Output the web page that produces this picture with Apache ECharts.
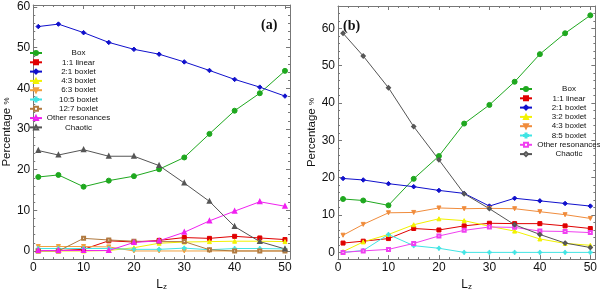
<!DOCTYPE html>
<html><head><meta charset="utf-8">
<script src="https://cdn.jsdelivr.net/npm/echarts@6/dist/echarts.min.js"></script>
<style>html,body{margin:0;padding:0;background:#fff}#c{width:600px;height:296px}</style>
</head><body><div id="c"></div>
<script>
// ---- data ----
const lz = [1, 5, 10, 15, 20, 25, 30, 35, 40, 45, 50];
const xTicks = [0, 10, 20, 30, 40, 50];
const yTicks = [0, 10, 20, 30, 40, 50, 60];

// panel (a)
const aBox       = [18.2, 18.7, 15.8, 17.3, 18.4, 20.1, 23.0, 28.8, 34.5, 38.8, 44.3];
const aLinear11  = [0.1, 0.1, 0.4, 2.5, 2.2, 2.6, 3.3, 3.1, 3.6, 3.2, 2.8];
const aBoxlet21  = [55.2, 55.8, 53.7, 51.3, 49.6, 48.4, 46.5, 44.4, 42.2, 40.3, 38.1];
const aBoxlet43  = [0, 0, 0, 0.1, 0.8, 1.9, 2.2, 2.3, 2.4, 2.4, 2.3];
const aBoxlet63  = [1.1, 1.1, 1.1, 1.0, 0, 0, 0, 0, 0, 0, 0];
const aBoxlet105 = [0.6, 0.6, 0.6, 0.6, 0.4, 0.4, 0.7, 0.3, 0.6, 0.6, 0.5];
const aBoxlet127 = [0, 0, 3.1, 2.7, 2.4, 2.3, 2.3, 0.3, 0, 0, 0];
const aOther     = [0.1, 0.1, 0.1, 0.1, 2.1, 2.5, 4.6, 7.4, 9.8, 12.1, 11.0];
const aChaotic   = [24.7, 23.6, 24.9, 23.3, 23.3, 21.0, 16.7, 12.2, 6.0, 2.3, 0.5];

// panel (b)
const bBox       = [14.3, 13.9, 12.6, 19.7, 25.8, 34.5, 39.5, 45.7, 53.1, 58.7, 63.5];
const bLinear11  = [2.5, 3.0, 3.7, 6.4, 6.0, 7.1, 7.8, 7.7, 7.7, 7.1, 6.4];
const bBoxlet21  = [19.8, 19.4, 18.4, 17.6, 16.6, 15.8, 12.4, 14.5, 13.8, 13.1, 12.4];
const bBoxlet32  = [0.2, 2.8, 4.8, 7.4, 9.0, 8.5, 7.0, 5.7, 3.6, 2.4, 1.9];
const bBoxlet43  = [4.6, 7.5, 10.6, 10.7, 11.9, 11.7, 11.8, 11.7, 10.9, 10.1, 9.1];
const bBoxlet85  = [0, 0.5, 4.8, 1.8, 1.1, 0, 0, 0, 0, 0, 0];
const bOther     = [0, 0.4, 0.8, 2.4, 4.4, 5.9, 6.8, 6.7, 5.7, 5.6, 5.3];
const bChaotic   = [58.7, 52.6, 44.1, 33.7, 24.8, 15.7, 11.7, 7.4, 4.8, 2.5, 1.3];

// ---- styles ----
const PLUS = 'path://M3,0H5V3H8V5H5V8H3V5H0V3H3Z';
const FONT = '"Liberation Sans", Arial, sans-serif';
const FRAME = '#777';

const aSeriesDef = [
  ['Box', aBox, {color:'#1fa81f', symbol:'circle', size:5}],
  ['1:1 linear', aLinear11, {color:'#e00000', symbol:'rect', size:4}],
  ['2:1 boxlet', aBoxlet21, {color:'#1010cc', symbol:'diamond', size:4.5}],
  ['4:3 boxlet', aBoxlet43, {color:'#f2f200', symbol:'triangle', size:4}],
  ['6:3 boxlet', aBoxlet63, {color:'#f0a040', symbol:'triangle', size:4, rot:180}],
  ['10:5 boxlet', aBoxlet105, {color:'#40e4e4', symbol:PLUS, size:4}],
  ['12:7 boxlet', aBoxlet127, {color:'#b07a40', symbol:'emptyRect', size:3}],
  ['Other resonances', aOther, {color:'#f020f0', symbol:'emptyTriangle', size:3}],
  ['Chaotic', aChaotic, {color:'#555555', symbol:'emptyTriangle', size:3}]
];
const bSeriesDef = [
  ['Box', bBox, {color:'#1fa81f', symbol:'circle', size:5}],
  ['1:1 linear', bLinear11, {color:'#e00000', symbol:'rect', size:4}],
  ['2:1 boxlet', bBoxlet21, {color:'#1010cc', symbol:'diamond', size:4.5}],
  ['3:2 boxlet', bBoxlet32, {color:'#f2f200', symbol:'triangle', size:4}],
  ['4:3 boxlet', bBoxlet43, {color:'#f08c3c', symbol:'triangle', size:4, rot:180}],
  ['8:5 boxlet', bBoxlet85, {color:'#40e4e4', symbol:PLUS, size:4}],
  ['Other resonances', bOther, {color:'#f040f0', symbol:'emptyRect', size:3}],
  ['Chaotic', bChaotic, {color:'#555555', symbol:'emptyDiamond', size:3}]
];

function mkSeries(panel, def) {
  const idx = panel === 'a' ? 0 : 4;
  return def.map(([name, vals, st]) => ({
    type: 'line', name: panel + '|' + name,
    xAxisIndex: idx, yAxisIndex: idx,
    data: lz.map((x, i) => [x, vals[i]]),
    symbol: st.symbol, symbolSize: st.size, symbolRotate: st.rot || 0,
    showSymbol: true, animation: false,
    lineStyle: {color: st.color, width: 1},
    itemStyle: {color: st.color, borderColor: st.color, borderWidth: 1}
  }));
}

function range(a, b, s) { const r = []; for (let v = a; v <= b + 1e-9; v += s) r.push(v); return r; }
const xMinor = range(0, 50, 2);
const yMinorA = range(0, 60, 2);
const yMinorB = range(0, 66, 2);

function ax(grid, pos, min, max, ticks, len, line, label, extra) {
  return Object.assign({
    gridIndex: grid, type: 'value', position: pos, min: min, max: max,
    axisLine: {show: line, onZero: false, lineStyle: {color: FRAME, width: 1}},
    axisTick: {show: true, inside: true, length: len, customValues: ticks, lineStyle: {color: FRAME, width: 1}},
    axisLabel: label ? {show: true, customValues: ticks, color: '#111', fontSize: 12, fontFamily: FONT, margin: 3} : {show: false},
    splitLine: {show: false}
  }, extra || {});
}

const xName = {
  name: '{l|L}{s|z}', nameLocation: 'middle', nameGap: 16,
  nameTextStyle: {rich: {
    l: {fontSize: 12, fontFamily: FONT, color: '#111', verticalAlign: 'bottom', lineHeight: 14},
    s: {fontSize: 8, fontFamily: FONT, color: '#111', verticalAlign: 'bottom', lineHeight: 10}
  }}
};
function yName(gap) {
  return {
    name: '{p|Percentage }{q|%}', nameLocation: 'middle', nameGap: gap, nameRotate: 90,
    nameTextStyle: {rich: {
      p: {fontSize: 11.5, fontFamily: FONT, color: '#111'},
      q: {fontSize: 8, fontFamily: FONT, color: '#111'}
    }}
  };
}

const xAxes = [];
const yAxes = [];
// grid 0 (a)
xAxes.push(ax(0, 'bottom', 0, 51, xTicks, 4, true, true, xName));
xAxes.push(ax(0, 'bottom', 0, 51, xMinor, 2, false, false));
xAxes.push(ax(0, 'top', 0, 51, xTicks, 4, true, false));
xAxes.push(ax(0, 'top', 0, 51, xMinor, 2, false, false));
yAxes.push(ax(0, 'left', -2, 60.5, yTicks, 4, true, true, yName(18)));
yAxes.push(ax(0, 'left', -2, 60.5, yMinorA, 2, false, false));
yAxes.push(ax(0, 'right', -2, 60.5, yTicks, 4, true, false));
yAxes.push(ax(0, 'right', -2, 60.5, yMinorA, 2, false, false));
// grid 1 (b)
xAxes.push(ax(1, 'bottom', 0, 51, xTicks, 4, true, true, xName));
xAxes.push(ax(1, 'bottom', 0, 51, xMinor, 2, false, false));
xAxes.push(ax(1, 'top', 0, 51, xTicks, 4, true, false));
xAxes.push(ax(1, 'top', 0, 51, xMinor, 2, false, false));
yAxes.push(ax(1, 'left', -1.8, 66, yTicks, 4, true, true, yName(17)));
yAxes.push(ax(1, 'left', -1.8, 66, yMinorB, 2, false, false));
yAxes.push(ax(1, 'right', -1.8, 66, yTicks, 4, true, false));
yAxes.push(ax(1, 'right', -1.8, 66, yMinorB, 2, false, false));

function legend(panel, def, left, top, w) {
  return {
    orient: 'vertical', left: left, top: top, padding: 0,
    itemWidth: 12, itemHeight: 5, itemGap: 1.3,
    data: def.map(d => panel + '|' + d[0]),
    formatter: n => '{t|' + n.slice(2) + '}',
    textStyle: {rich: {t: {width: w, align: 'center', fontSize: 8, fontFamily: FONT, color: '#111', lineHeight: 8}}},
    selectedMode: false
  };
}

const chart = echarts.init(document.getElementById('c'), null, {renderer: 'canvas'});
chart.setOption({
  animation: false,
  backgroundColor: '#fff',
  grid: [
    {left: 29, right: 310, top: 5, bottom: 30},
    {left: 338, right: 2, top: 6, bottom: 30}
  ],
  xAxis: xAxes,
  yAxis: yAxes,
  legend: [legend('a', aSeriesDef, 29, 49, 63), legend('b', bSeriesDef, 519, 85, 64)],
  graphic: [
    {type: 'text', left: 261, top: 18, style: {text: '(a)', font: 'bold 14px "Liberation Serif", "Times New Roman", serif', fill: '#111'}},
    {type: 'text', left: 343, top: 19, style: {text: '(b)', font: 'bold 14px "Liberation Serif", "Times New Roman", serif', fill: '#111'}}
  ],
  series: mkSeries('a', aSeriesDef).concat(mkSeries('b', bSeriesDef))
});
</script>
</body></html>
